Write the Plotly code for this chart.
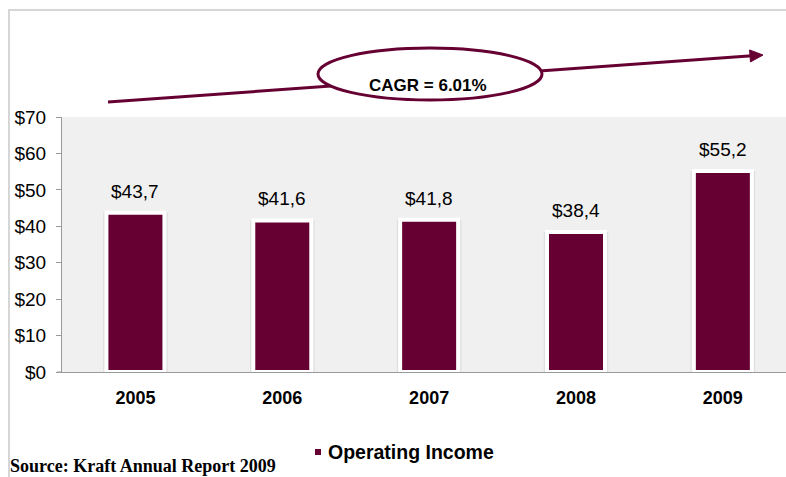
import plotly.graph_objects as go

# Kraft operating income by year
years = ["2005", "2006", "2007", "2008", "2009"]
operating_income = [43.7, 41.6, 41.8, 38.4, 55.2]
y_ticks = [0, 10, 20, 30, 40, 50, 60, 70]
y_tick_labels = [f"${t}" for t in y_ticks]
series_name = "Operating Income"
cagr_label = "CAGR = 6.01%"
source_note = "Source: Kraft Annual Report 2009"
figure_title = "Figure 4: Kraft Operating Income"

BAR_COLOR = "#660033"
SANS = "Arial, Liberation Sans, sans-serif"
SERIF = "Liberation Serif, Times New Roman, serif"
W, H = 786, 477
L, R, T, B = 62, 0, 117, 105
PW, PH = W - L - R, H - T - B


def px(x):
    """Pixel column -> paper x."""
    return (x - L) / PW


def py(y):
    """Pixel row -> paper y."""
    return (H - B - y) / PH


fig = go.Figure()

# soft shadow behind each bar
fig.add_trace(go.Bar(
    x=years, y=operating_income, width=0.44,
    marker=dict(color="rgba(0,0,0,0.07)", line=dict(width=0)),
    showlegend=False, hoverinfo="skip",
))
fig.add_trace(go.Bar(
    x=years, y=operating_income, name=series_name, width=0.395,
    marker=dict(color=BAR_COLOR, line=dict(color="white", width=4)),
    showlegend=False,
))

fig.update_layout(
    width=W, height=H,
    margin=dict(l=L, r=R, t=T, b=B, pad=0),
    paper_bgcolor="white",
    plot_bgcolor="#f0f0f0",
    barmode="overlay",
    font=dict(family=SANS, color="#000000", size=18),
    xaxis=dict(
        type="category", range=[-0.5, 4.43],
        showgrid=False, showline=True, linecolor="#9a9a9a", linewidth=1,
        ticks="", tickfont=dict(size=18, family=SANS, weight="bold"),
        ticklabelstandoff=9,
    ),
    yaxis=dict(
        range=[0, 70], tickvals=y_ticks, ticktext=y_tick_labels,
        showgrid=False, zeroline=False, showline=True, linecolor="#9a9a9a", linewidth=1,
        ticks="outside", ticklen=5, tickcolor="#9a9a9a",
        tickfont=dict(size=19), ticklabelstandoff=6,
    ),
)

annotations = []
# value labels above bars
for i, v in enumerate(operating_income):
    annotations.append(dict(
        x=i, y=v, xref="x", yref="y", text=f"${v:.1f}".replace(".", ","),
        showarrow=False, yanchor="bottom", yshift=9,
        font=dict(size=19, color="#000000"),
    ))

shapes = []
# frame around the exhibit
shapes.append(dict(type="rect", xref="paper", yref="paper",
                   x0=px(9), x1=px(800), y0=py(10), y1=py(490),
                   line=dict(color="#d6d6d6", width=2), fillcolor="rgba(0,0,0,0)", layer="below"))
# short x-axis stub left of the y axis
shapes.append(dict(type="line", xref="paper", yref="paper",
                   x0=px(57), x1=px(62), y0=0, y1=0,
                   line=dict(color="#9a9a9a", width=1)))

# growth arrow
x_start, y_start = 108, 102
x_tip, y_tip = 763, 55
dx, dy = x_tip - x_start, y_tip - y_start
n = (dx ** 2 + dy ** 2) ** 0.5
ux, uy = dx / n, dy / n
head_len, head_half = 13, 6
bx, by = x_tip - head_len * ux, y_tip - head_len * uy
shapes.append(dict(type="line", xref="paper", yref="paper",
                   x0=px(x_start), y0=py(y_start), x1=px(bx + 2 * ux), y1=py(by + 2 * uy),
                   line=dict(color=BAR_COLOR, width=3)))
p1 = (bx - uy * head_half, by + ux * head_half)
p2 = (bx + uy * head_half, by - ux * head_half)
shapes.append(dict(type="path", xref="paper", yref="paper",
                   path=f"M {px(x_tip)} {py(y_tip)} L {px(p1[0])} {py(p1[1])} L {px(p2[0])} {py(p2[1])} Z",
                   fillcolor=BAR_COLOR, line=dict(color=BAR_COLOR, width=1)))
# CAGR ellipse
shapes.append(dict(type="circle", xref="paper", yref="paper",
                   x0=px(318), x1=px(542), y0=py(48), y1=py(100),
                   fillcolor="white", line=dict(color=BAR_COLOR, width=3)))
annotations.append(dict(x=px(428), y=py(74), xref="paper", yref="paper",
                        text=f"<b>{cagr_label}</b>", showarrow=False,
                        font=dict(size=17, color="#000000")))

# legend entry
shapes.append(dict(type="rect", xref="paper", yref="paper",
                   x0=px(315), x1=px(321), y0=py(449), y1=py(455),
                   fillcolor=BAR_COLOR, line=dict(width=0)))
annotations.append(dict(x=px(326), y=py(452), xref="paper", yref="paper",
                        text=f"<b>{series_name}</b>", showarrow=False,
                        xanchor="left", yanchor="middle",
                        font=dict(size=19.5, color="#000000")))

# source note
annotations.append(dict(x=px(8), y=py(466), xref="paper", yref="paper",
                        text=f"<b>{source_note}</b>", showarrow=False,
                        xanchor="left", yanchor="middle",
                        font=dict(size=18, color="#000000", family=SERIF)))
# title (runs off the top edge of the page)
annotations.append(dict(x=px(8), y=py(2), xref="paper", yref="paper",
                        text=f"<b>{figure_title}</b>", showarrow=False,
                        xanchor="left", yanchor="bottom",
                        font=dict(size=17.5, color="#000000", family=SERIF)))

fig.update_layout(shapes=shapes, annotations=annotations)
fig.write_html("out.html")
